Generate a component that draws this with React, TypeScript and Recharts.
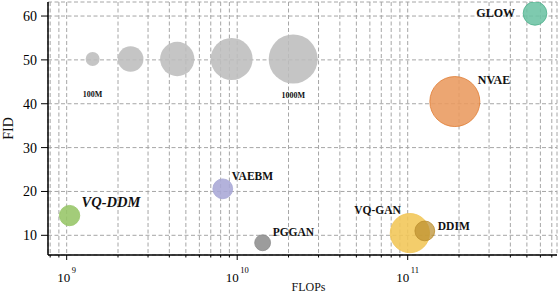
import { ScatterChart, Scatter, XAxis, YAxis, ZAxis, CartesianGrid, Label } from 'recharts'

document.body.style.margin = '0'

const FONT = '"Liberation Serif", "DejaVu Serif", serif'

// reference bubbles showing model size
const REF_LABELS = ['100M', '', '', '', '1000M']
const REF_FLOPS = [1.42e9, 2.37e9, 4.45e9, 9.28e9, 2.13e10]
const REF_FID = [50.2, 50.2, 50.2, 50.2, 50.2]
const REF_PARAMS = [100, 290, 500, 740, 1000]

// models
const MODELS = ['GLOW', 'NVAE', 'VQ-DDM', 'VAEBM', 'PGGAN', 'VQ-GAN', 'DDIM']
const MODEL_FLOPS = [5.58e11, 1.89e11, 1.04e9, 8.23e9, 1.41e10, 1.03e11, 1.26e11]
const MODEL_FID = [60.6, 40.5, 14.5, 20.6, 8.3, 10.5, 11.0]
const MODEL_PARAMS = [248, 1040, 189, 180, 123, 649, 180]

const X_MAJOR = [1e9, 1e10, 1e11]
const X_MINOR = [8e8, 9e8, 2e9, 3e9, 4e9, 5e9, 6e9, 7e9, 8e9, 9e9, 2e10, 3e10, 4e10, 5e10, 6e10, 7e10, 8e10, 9e10, 2e11, 3e11, 4e11, 5e11, 6e11, 7e11]
const Y_TICKS = [10, 20, 30, 40, 50, 60]

const refData = REF_FLOPS.map((f, i) => ({ name: REF_LABELS[i], flops: f, fid: REF_FID[i], params: REF_PARAMS[i] }))
const modelData = MODELS.map((m, i) => ({ name: m, flops: MODEL_FLOPS[i], fid: MODEL_FID[i], params: MODEL_PARAMS[i] }))
const xTicks = [...X_MAJOR, ...X_MINOR].sort((a, b) => a - b)

const COLORS: Record<string, { fill: string; stroke: string }> = {
  GLOW: { fill: '#6cc3a4', stroke: '#4fb08c' },
  NVAE: { fill: '#e99a5f', stroke: '#e07c32' },
  'VQ-DDM': { fill: '#96c567', stroke: '#96c567' },
  VAEBM: { fill: '#a8a7d6', stroke: '#a8a7d6' },
  PGGAN: { fill: '#8e8e8e', stroke: '#8e8e8e' },
  'VQ-GAN': { fill: '#f1c657', stroke: '#f1c657' },
  DDIM: { fill: '#bb8f2e', stroke: '#bb8f2e' },
}

type LabelStyle = { dx: number; dy: number; anchor: 'start' | 'middle' | 'end'; size: number; italic?: boolean }
const LABELS: Record<string, LabelStyle> = {
  GLOW: { dx: -20, dy: 3.5, anchor: 'end', size: 12 },
  NVAE: { dx: 23, dy: -18, anchor: 'start', size: 12 },
  'VQ-DDM': { dx: 12, dy: -9, anchor: 'start', size: 14.5, italic: true },
  VAEBM: { dx: 9, dy: -9, anchor: 'start', size: 11.5 },
  PGGAN: { dx: 10, dy: -7, anchor: 'start', size: 11.5 },
  'VQ-GAN': { dx: -9, dy: -19.5, anchor: 'end', size: 11.5 },
  DDIM: { dx: 13, dy: -1, anchor: 'start', size: 11.5 },
  '100M': { dx: 0, dy: 38, anchor: 'middle', size: 8 },
  '1000M': { dx: 0, dy: 39, anchor: 'middle', size: 8 },
}

function radius(p: any) {
  if (typeof p.size === 'number') return Math.sqrt(p.size / Math.PI)
  return (p.width || 0) / 2
}

function BubbleLabel({ cx, cy, name }: { cx: number; cy: number; name: string }) {
  const l = LABELS[name]
  if (!l) return null
  return (
    <text x={cx + l.dx} y={cy + l.dy} textAnchor={l.anchor} fontFamily={FONT} fontSize={l.size}
      fontWeight="bold" fontStyle={l.italic ? 'italic' : 'normal'} fill="#111">
      {name}
    </text>
  )
}

function RefBubble(props: any) {
  const { cx, cy, payload } = props
  return (
    <g>
      <circle cx={cx} cy={cy} r={radius(props)} fill="#bdbdbd" fillOpacity={0.88} />
      <BubbleLabel cx={cx} cy={cy} name={payload.name} />
    </g>
  )
}

function ModelBubble(props: any) {
  const { cx, cy, payload } = props
  const c = COLORS[payload.name]
  return (
    <g>
      <circle cx={cx} cy={cy} r={radius(props)} fill={c.fill} fillOpacity={payload.name === 'DDIM' ? 0.72 : 0.88}
        stroke={c.stroke} strokeWidth={1} strokeOpacity={0.8} />
      <BubbleLabel cx={cx} cy={cy} name={payload.name} />
    </g>
  )
}

function XTick(props: any) {
  const { x, y, payload } = props
  const v = payload.value as number
  const e = Math.round(Math.log10(v))
  const major = Math.abs(v - Math.pow(10, e)) < v * 1e-6
  return (
    <g>
      <line x1={x} x2={x} y1={y} y2={y + (major ? 5 : 2.5)} stroke="#000" strokeWidth={1} />
      {major && (
        <text x={x} y={y + 26.5} textAnchor="middle" fontFamily={FONT} fontSize={13} fill="#000">
          <tspan>10</tspan>
          <tspan dx={1.5} dy={-9} fontSize={8.5}>{e}</tspan>
        </text>
      )}
    </g>
  )
}

export default function App() {
  return (
    <ScatterChart width={560} height={294} margin={{ top: 2, right: 3, bottom: 0, left: 0 }}>
      <CartesianGrid stroke="#a6a6a6" strokeDasharray="4 2.5" />
      <XAxis dataKey="flops" type="number" scale="log" domain={[7.77e8, 7.51e11]} allowDataOverflow
        ticks={xTicks} interval={0} tick={<XTick />} tickLine={false} tickSize={0} tickMargin={0}
        axisLine={{ stroke: '#000', strokeWidth: 1.5 }} height={39}>
        <Label value="FLOPs" position="insideBottom" offset={3} dx={6} fontFamily={FONT} fontSize={12} fill="#111" />
      </XAxis>
      <XAxis xAxisId="top" orientation="top" type="number" scale="log" domain={[7.77e8, 7.51e11]}
        allowDataOverflow tick={false} tickLine={false} height={0} axisLine={{ stroke: '#000', strokeWidth: 1 }} />
      <YAxis dataKey="fid" type="number" domain={[5.51, 63.2]} allowDataOverflow ticks={Y_TICKS} interval={0}
        width={48} tickSize={7} tickMargin={4} tickLine={{ stroke: '#000' }}
        axisLine={{ stroke: '#000', strokeWidth: 1.5 }}
        tick={{ fill: '#000', fontSize: 14, fontFamily: FONT }}>
        <Label value="FID" angle={-90} position="insideLeft" offset={8} fontFamily={FONT} fontSize={14}
          fill="#111" style={{ textAnchor: 'middle' }} />
      </YAxis>
      <YAxis yAxisId="right" orientation="right" type="number" domain={[5.51, 63.2]} tick={false}
        tickLine={false} width={0} axisLine={{ stroke: '#000', strokeWidth: 1 }} />
      <ZAxis dataKey="params" type="number" domain={[100, 1000]} range={[154, 1963]} />
      <Scatter data={refData} shape={<RefBubble />} isAnimationActive={false} />
      <Scatter data={modelData} shape={<ModelBubble />} isAnimationActive={false} />
    </ScatterChart>
  )
}
